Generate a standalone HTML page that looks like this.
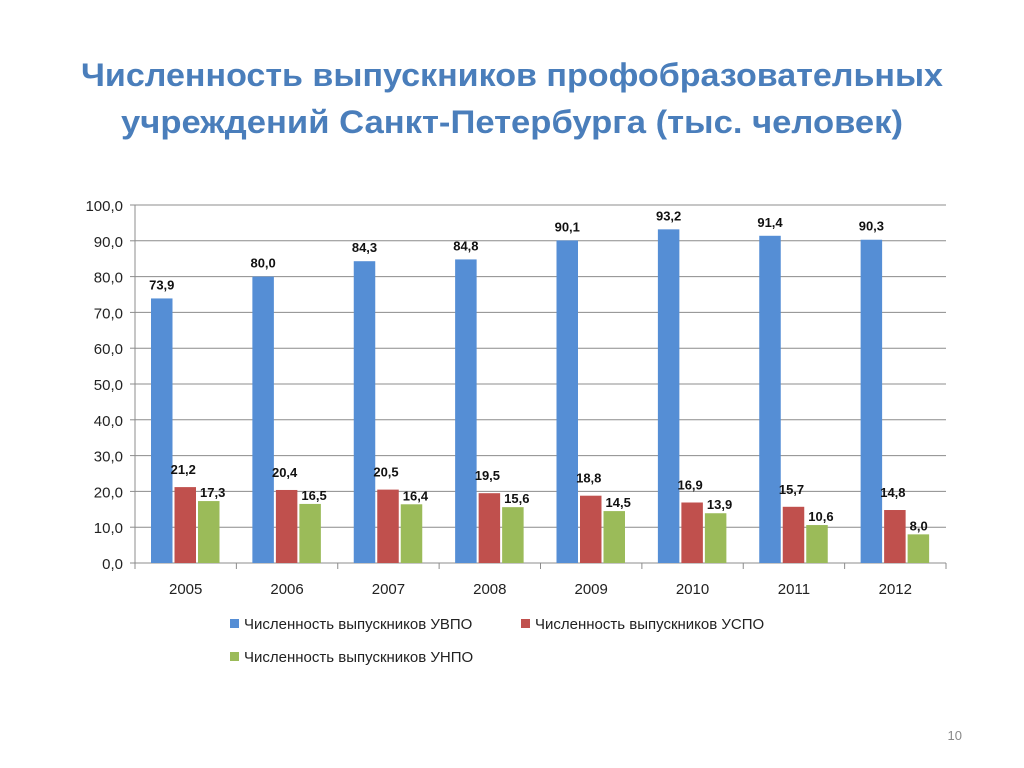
<!DOCTYPE html>
<html><head><meta charset="utf-8"><style>
html,body{margin:0;padding:0;background:#fff;}
svg{display:block;font-family:"Liberation Sans",sans-serif;}
</style></head><body>
<svg id="chart" width="1024" height="768" viewBox="0 0 1024 768">
<text x="512" y="86" text-anchor="middle" font-size="32" font-weight="bold" fill="#4a7ebb" textLength="862" lengthAdjust="spacingAndGlyphs">Численность выпускников профобразовательных</text>
<text x="512" y="133" text-anchor="middle" font-size="32" font-weight="bold" fill="#4a7ebb" textLength="782" lengthAdjust="spacingAndGlyphs">учреждений Санкт-Петербурга (тыс. человек)</text>
<g id="grid"></g>
<g id="bars"></g>
<g id="labels"></g>
<g id="axes"></g>
<g font-size="15" fill="#222">
<rect x="230" y="619" width="9" height="9" fill="#558ed5"/>
<text x="244" y="629" fill="#222">Численность выпускников УВПО</text>
<rect x="521" y="619" width="9" height="9" fill="#c0504d"/>
<text x="535" y="629" fill="#222">Численность выпускников УСПО</text>
<rect x="230" y="652" width="9" height="9" fill="#9bbb59"/>
<text x="244" y="662" fill="#222">Численность выпускников УНПО</text>
</g>
<text x="962" y="740" text-anchor="end" font-size="13" fill="#888">10</text>
</svg>
<script>
const categories = ["2005","2006","2007","2008","2009","2010","2011","2012"];
const uvpo = [73.9,80.0,84.3,84.8,90.1,93.2,91.4,90.3];
const uspo = [21.2,20.4,20.5,19.5,18.8,16.9,15.7,14.8];
const unpo = [17.3,16.5,16.4,15.6,14.5,13.9,10.6,8.0];
const yTicks = [0,10,20,30,40,50,60,70,80,90,100];

const NS="http://www.w3.org/2000/svg";
const X0=135,X1=946,Y0=563,Y1=205,YMAX=100;
const gw=(X1-X0)/categories.length;
const y=v=>Y0-(v/YMAX)*(Y0-Y1);
const xg=i=>X0+i*gw;
const fmt=v=>v.toFixed(1).replace('.',',');
function mk(tag,attrs,parent){const e=document.createElementNS(NS,tag);for(const k in attrs)e.setAttribute(k,attrs[k]);parent.appendChild(e);return e;}
const grid=document.getElementById('grid'),bars=document.getElementById('bars'),labels=document.getElementById('labels'),axes=document.getElementById('axes');
yTicks.forEach(t=>{
  const l=mk('line',{x1:X0,x2:X1,y1:y(t),y2:y(t),stroke:'#8c8c8c','stroke-width':1},grid);
  
  
  const tk=mk('line',{x1:X0-5,x2:X0,y1:y(t),y2:y(t),stroke:'#8c8c8c'},axes);
  
  
  const tx=mk('text',{x:X0-12,y:y(t)+6,'text-anchor':'end','font-size':15,fill:'#222'},axes);
  tx.textContent=fmt(t);
  
  
});
const ax=mk('line',{x1:X0,x2:X0,y1:Y1,y2:Y0,stroke:'#8c8c8c'},axes);


for(let i=0;i<=categories.length;i++){
  const t=mk('line',{x1:xg(i),x2:xg(i),y1:Y0,y2:Y0+6,stroke:'#8c8c8c'},axes);
  
  
}
const series=[[uvpo,'#558ed5','uvpo'],[uspo,'#c0504d','uspo'],[unpo,'#9bbb59','unpo']];
const bw=21.5,off=16,gap=23.5;
categories.forEach((c,i)=>{
  const tx=mk('text',{x:xg(i)+gw/2,y:Y0+31,'text-anchor':'middle','font-size':15,fill:'#222'},axes);
  tx.textContent=c;
  
  
  series.forEach(([arr,col,nm],s)=>{
    const bx=xg(i)+off+s*gap;
    const r=mk('rect',{x:bx,y:y(arr[i]),width:bw,height:Y0-y(arr[i]),fill:col},bars);
    
    
    let lx,ly,anchor='middle';
    if(s===0){lx=bx+bw/2;ly=y(arr[i])-9;}
    else if(s===1){lx=bx+bw/2-2;ly=y(arr[i])-13;}
    else{lx=bx+2;ly=y(arr[i])-4;anchor='start';}
    const lb=mk('text',{x:lx,y:ly,'text-anchor':anchor,'font-size':13,'font-weight':'bold',fill:'#111'},labels);
    lb.textContent=fmt(arr[i]);
    
    
  });
});
</script>
</body></html>
